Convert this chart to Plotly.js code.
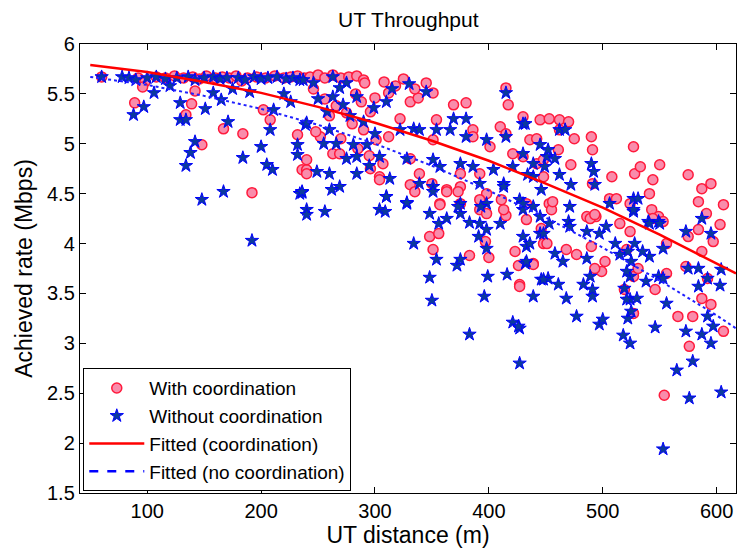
<!DOCTYPE html>
<html>
<head>
<meta charset="utf-8">
<script src="https://cdn.plot.ly/plotly-3.0.1.min.js"></script>
<style>html,body{margin:0;padding:0;background:#fff;}#chart{width:737px;height:559px;}</style>
</head>
<body>
<div id="chart"></div>
<script>
// With coordination (red circles)
const coordX = [60,92,98,108,116,124,132,140,146,152,160,166,172,178,188,196,204,212,220,226,232,238,243,250,256,263,270,277,284,290,
96,89,139,142,134,167,184,148,192,183,202,208,232,236,240,240,
291,312,300,331,338,345,351,369,380,415,417,445,430,386,410,354,322,312,304,296,263,269,240,252,275,290,301,331,339,363,375,392,401,421,436,442,448,357,375,398,307,386,351,415,
453,462,470,462,442,461,475,490,491,472,508,527,528,533,550,544,541,575,587,595,584,606,591,603,506,512,494,524,543,549,430,448,486,515,491,453,
584,575,597,587,573,592,556,546,587,595,579,566,606,576,554,527,531,519,527,502,499,493,468,477,439,427,490,521,524,553,556,544,489,493,455,433,433,448,456,
304,331,335,350,363,373,357,375,392,392,398,411,415,348,356,351,383,400,397,423,426,439,427,446,451,413,
246,256,266,283,288,296,260,280,248,270,285,295,318,325,335,308];
const coordY = [5.67,5.66,5.62,5.67,5.66,5.68,5.66,5.67,5.65,5.68,5.66,5.67,5.66,5.68,5.66,5.67,5.66,5.68,5.66,5.67,5.68,5.66,5.67,5.69,5.66,5.69,5.66,5.67,5.68,5.64,
5.57,5.41,5.40,5.53,5.29,5.15,5.10,4.99,4.51,5.63,5.34,5.24,5.09,4.74,4.74,4.84,
5.61,5.51,5.46,5.42,5.46,5.61,5.51,5.39,5.41,5.56,5.39,5.24,5.27,5.14,5.17,5.24,5.25,5.07,4.67,4.75,4.90,4.90,4.70,5.07,5.31,5.14,5.04,4.85,4.70,4.54,4.70,4.70,4.97,4.90,5.04,4.80,4.67,4.40,4.57,4.50,4.80,5.07,5.04,5.10,
5.25,5.24,5.22,5.14,5.05,4.94,5.05,5.07,4.94,4.79,4.67,4.97,4.70,4.77,4.79,4.64,4.50,4.69,4.55,4.60,4.42,4.39,4.30,4.19,4.45,4.45,4.27,4.40,4.34,4.27,4.87,4.84,4.27,4.20,4.60,4.40,
4.14,4.07,4.02,3.92,3.77,3.65,3.70,3.54,3.45,3.39,3.27,3.27,3.12,2.97,2.48,3.67,3.75,3.54,3.30,3.82,3.72,3.75,3.94,3.89,3.80,3.59,3.97,3.94,4.12,4.22,4.00,4.25,4.25,4.29,4.34,4.24,4.40,4.00,4.42,
4.64,4.59,4.52,4.60,4.52,4.52,4.39,4.40,4.44,4.34,4.30,4.44,4.28,4.07,4.10,3.94,3.88,3.86,4.02,3.92,3.78,3.79,3.57,4.15,4.00,4.34,
5.55,5.45,5.38,5.50,5.42,5.32,5.28,5.20,5.12,5.05,4.95,4.88,5.58,5.65,5.55,5.62];

// Without coordination (blue stars)
const noCoordX = [60,78,84,90,100,108,116,126,136,142,150,158,164,170,180,186,194,200,206,214,222,228,234,237,246,263,275,269,
88,97,106,129,129,134,142,138,134,151,148,167,171,184,200,205,210,208,211,158,165,232,232,236,240,239,192,240,120,175,190,220,226,
263,272,284,299,310,345,369,380,415,430,322,334,339,354,366,380,398,415,240,260,266,281,293,304,284,249,260,284,313,328,351,357,375,386,404,421,439,451,328,375,398,310,234,269,339,351,413,427,392,439,
432,462,467,445,452,458,449,462,472,490,492,493,430,434,446,471,506,527,531,527,540,549,587,430,453,470,503,
573,595,575,584,592,584,603,556,592,597,573,587,595,579,565,576,604,553,546,524,518,522,525,524,530,521,519,524,538,549,553,497,500,477,468,491,491,483,461,452,446,439,427,427,489,486,465,458,432,433,445,430,471,486,497,511,515,522,528,541,535,541,550,527,553,525,521,604,
236,262,256,304,309,310,328,351,348,356,363,334,354,372,375,348,350,383,392,398,391,398,410,399,396,416,433,436,383,421,426,448,445,439,430,448,375,373,393,413,
250,258,278,290,300,255,275,295,315,330];
const noCoordY = [5.67,5.67,5.66,5.64,5.66,5.67,5.65,5.66,5.67,5.64,5.66,5.67,5.65,5.66,5.66,5.64,5.67,5.65,5.66,5.67,5.65,5.66,5.64,5.64,5.61,5.67,5.61,5.56,
5.29,5.37,5.51,5.41,5.24,5.24,5.02,4.91,4.78,5.35,4.44,4.52,5.22,4.86,4.97,4.79,4.74,5.14,5.34,5.51,5.44,4.99,4.89,4.51,4.34,5.19,4.03,4.29,5.58,5.55,5.52,5.50,5.42,
5.47,5.39,5.47,5.36,5.42,5.52,5.25,5.25,5.51,5.20,5.14,5.15,5.14,5.14,5.14,5.07,5.04,5.07,5.21,5.14,5.00,4.99,4.99,4.87,4.87,4.72,4.70,4.70,4.65,4.85,4.84,4.77,4.80,4.77,4.74,4.77,4.80,4.87,4.40,4.40,4.40,4.47,4.50,4.57,4.60,4.57,4.60,4.44,4.60,4.67,
5.20,5.14,5.14,4.99,4.94,4.85,4.77,4.69,4.59,4.80,4.72,4.59,4.90,4.69,4.54,4.37,4.40,4.45,4.45,4.32,4.22,4.22,4.25,4.34,4.20,4.22,4.17,
4.12,4.10,3.75,3.75,3.65,3.57,3.58,3.40,3.27,3.17,3.12,3.09,3.00,2.82,2.73,2.45,2.51,1.94,3.16,3.00,3.08,3.25,3.32,3.44,3.45,3.44,3.55,3.67,3.62,3.67,3.65,3.19,3.24,3.27,3.45,3.47,3.54,3.59,3.59,3.65,3.64,3.47,3.15,2.80,3.67,3.85,3.82,3.90,3.80,3.97,4.10,4.07,4.17,4.12,4.10,4.00,3.89,3.92,4.00,3.87,3.92,4.20,4.20,4.34,3.95,3.82,3.72,3.74,
4.52,4.54,4.32,4.34,4.32,4.47,4.41,4.52,4.30,4.20,4.25,4.00,3.84,3.78,3.84,3.66,3.43,4.21,4.20,4.14,4.07,3.95,4.20,3.67,3.47,3.69,3.82,4.00,3.09,3.21,3.17,3.64,4.27,4.37,4.40,4.10,4.30,4.37,4.37,4.57,
5.45,5.32,5.28,5.22,5.10,5.00,4.85,4.78,5.55,5.60];

// Fitted curves
const fitX = [50,100,150,200,250,300,350,400,450,500,550,600,617];
const fitCoordY = [5.79,5.72,5.62,5.51,5.37,5.21,5.03,4.83,4.60,4.36,4.09,3.80,3.70];
const fitNoCoordY = [5.67,5.59,5.48,5.35,5.19,5.00,4.78,4.53,4.26,3.96,3.63,3.28,3.15];

const xTicks = [100,200,300,400,500,600];
const yTicks = [1.5,2,2.5,3,3.5,4,4.5,5,5.5,6];
const yTickText = ['1.5','2','2.5','3','3.5','4','4.5','5','5.5','6'];

const FONT = 'Liberation Sans, Arial, sans-serif';

const traces = [
  {x: coordX, y: coordY, type: 'scatter', mode: 'markers', name: 'With coordination',
   marker: {symbol: 'circle', size: 10, color: '#f98cab', line: {color: '#ff1a3c', width: 1.5}}},
  {x: noCoordX, y: noCoordY, type: 'scatter', mode: 'markers', name: 'Without coordination',
   marker: {symbol: 'star', size: 10, color: '#0b3a9e', line: {color: '#0000ff', width: 1}}},
  {x: fitX, y: fitCoordY, type: 'scatter', mode: 'lines', name: 'Fitted (coordination)',
   line: {color: '#ff0000', width: 2.5}},
  {x: [null], y: [null], type: 'scatter', mode: 'lines', name: 'Fitted (no coordination)',
   line: {color: '#0000ff', width: 2.5, dash: 'dash'}},
  {x: fitX, y: fitNoCoordY, type: 'scatter', mode: 'lines', showlegend: false,
   line: {color: '#2020ff', width: 2, dash: 'dot'}}
];

const axisCommon = {showline: true, linecolor: '#000', linewidth: 1.2, mirror: 'ticks',
  ticks: 'inside', ticklen: 6, tickcolor: '#000', showgrid: false, zeroline: false};

const layout = {
  width: 737, height: 559,
  margin: {l: 80, r: 1, t: 44, b: 66},
  paper_bgcolor: '#fff', plot_bgcolor: '#fff',
  font: {family: FONT, color: '#000'},
  title: {text: 'UT Throughput', font: {size: 21, family: FONT}, x: 0.554, xanchor: 'center',
          y: 0.965, yanchor: 'middle', yref: 'container'},
  xaxis: Object.assign({}, axisCommon, {range: [41, 617], tickvals: xTicks, tickfont: {size: 20},
          title: {text: 'UT distance (m)', font: {size: 23}, standoff: 4}}),
  yaxis: Object.assign({}, axisCommon, {range: [1.5, 6], tickvals: yTicks, ticktext: yTickText, tickfont: {size: 20},
          title: {text: 'Achieved rate (Mbps)', font: {size: 23}, standoff: 8}}),
  legend: {x: 0.005, y: 0.004, xanchor: 'left', yanchor: 'bottom', bgcolor: '#fff',
           bordercolor: '#000', borderwidth: 1, font: {size: 19}, itemwidth: 55, tracegroupgap: 0},
  showlegend: true
};

Plotly.newPlot('chart', traces, layout, {displayModeBar: false, staticPlot: true});
</script>
</body>
</html>
